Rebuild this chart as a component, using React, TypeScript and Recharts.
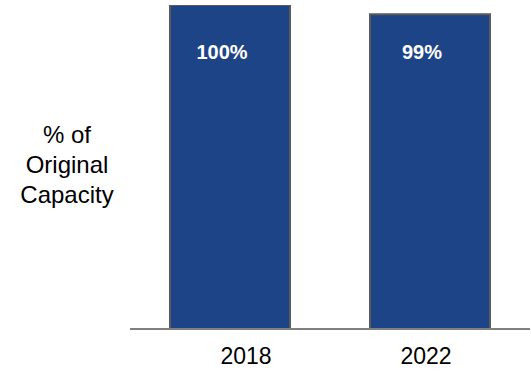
import { BarChart, Bar, XAxis, YAxis, LabelList } from 'recharts';

const years = ['2018', '2022'];
const capacity = [100, 99];
const capacityLabels = ['100%', '99%'];
const yDomain = [65, 100];

const data = years.map((year, i) => ({ year, capacity: capacity[i], label: capacityLabels[i] }));

const FONT = '"Liberation Sans", Arial, sans-serif';
const tickShift = [16, -4];

function YearTick(props: any) {
    const { x, y, payload, index } = props;
    return (
        <text x={x + (tickShift[index] ?? 0)} y={y} dy={27} textAnchor="middle" fill="#000" fontSize={23} fontFamily={FONT}>
            {payload.value}
        </text>
    );
}

function ValueLabel(props: any) {
    const { x, width, index } = props;
    return (
        <text x={x + width / 2 - 8} y={59} textAnchor="middle" fill="#fff" fontSize={20} fontWeight="bold" fontFamily={FONT}>
            {capacityLabels[index]}
        </text>
    );
}

export default function App() {
    return (
        <div style={{ position: 'absolute', left: 0, top: 0, width: 531, height: 374, background: '#fff', fontFamily: FONT }}>
            <div
                style={{
                    position: 'absolute',
                    left: 7,
                    top: 120,
                    width: 120,
                    textAlign: 'center',
                    fontSize: 24,
                    lineHeight: '30px',
                    color: '#000',
                }}
            >
                % of<br />Original<br />Capacity
            </div>
            <BarChart width={531} height={374} data={data} margin={{ top: 5, right: 1, bottom: 0, left: 130 }} barCategoryGap="20%">
                <XAxis
                    dataKey="year"
                    height={45}
                    axisLine={{ stroke: '#7f7f7f', strokeWidth: 2 }}
                    tickLine={false}
                    tick={<YearTick />}
                    interval={0}
                />
                <YAxis hide domain={yDomain} allowDataOverflow />
                <Bar dataKey="capacity" fill="#1E4488" stroke="#5a5a5a" strokeWidth={2} isAnimationActive={false}>
                    <LabelList dataKey="label" content={<ValueLabel />} />
                </Bar>
            </BarChart>
        </div>
    );
}
